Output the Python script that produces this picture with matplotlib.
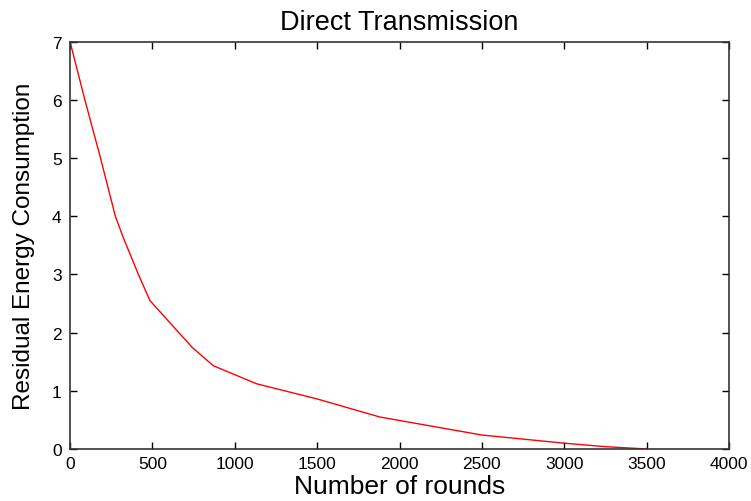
import matplotlib
matplotlib.use('Agg')
import matplotlib.pyplot as plt

plt.rcParams['font.family'] = ['Liberation Sans', 'DejaVu Sans']

# residual energy vs. rounds for direct transmission
rounds = [0, 90, 185, 275, 325, 415, 485, 740, 870, 1133, 1500, 1880, 2000, 2500, 3000, 3250, 3500]
energy = [7.0, 6.0, 5.0, 4.0, 3.62, 3.0, 2.55, 1.75, 1.43, 1.12, 0.86, 0.55, 0.49, 0.24, 0.10, 0.04, 0.0]

xticks = [0, 500, 1000, 1500, 2000, 2500, 3000, 3500, 4000]
yticks = [0, 1, 2, 3, 4, 5, 6, 7]

fig = plt.figure(figsize=(7.51, 5.02), dpi=100)
ax = fig.add_axes([70/751, 52/502, 659/751, 407.5/502])

ax.plot(rounds, energy, color='red', linewidth=1.0)

ax.set_xlim(0, 4000)
ax.set_ylim(0, 7)
ax.set_xticks(xticks)
ax.set_yticks(yticks)
ax.tick_params(direction='in', length=5, width=1, labelsize=12.5, top=True, right=True)
ax.tick_params(axis='x', pad=5)
ax.tick_params(axis='y', pad=6)
for s in ax.spines.values():
    s.set_linewidth(1.2)
    s.set_color('#333333')

ax.set_title('Direct Transmission', fontsize=19.5, pad=9)
ax.set_xlabel('Number of rounds', fontsize=19, labelpad=2)
ax.set_ylabel('Residual Energy Consumption', fontsize=17.5, labelpad=12)

fig.savefig('out.png', dpi=100)
